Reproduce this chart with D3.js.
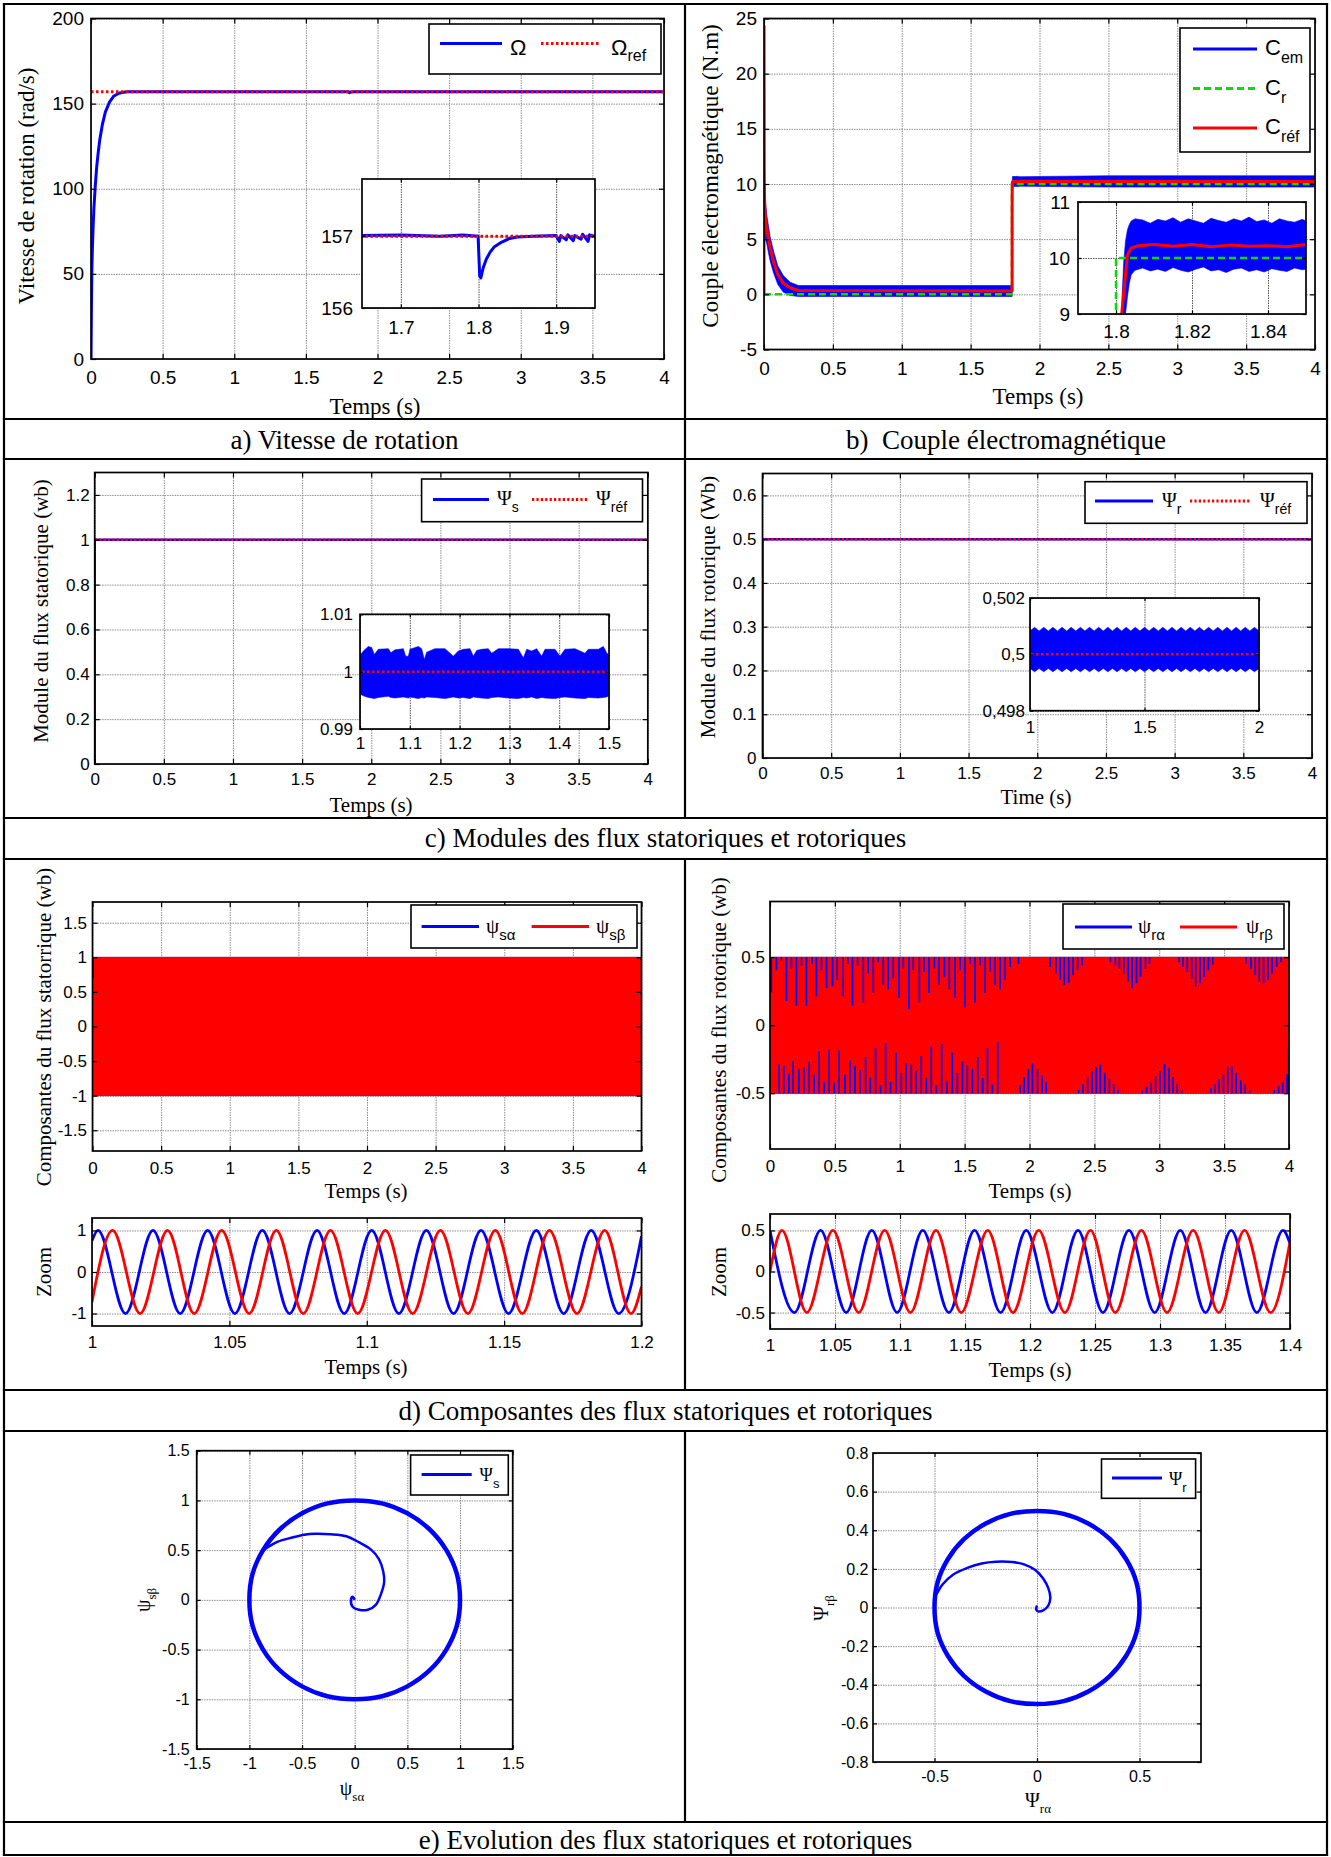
<!DOCTYPE html>
<html>
<head>
<meta charset="utf-8">
<script src="https://cdnjs.cloudflare.com/ajax/libs/d3/7.8.5/d3.min.js"></script>
<style>
  html, body { margin: 0; padding: 0; background: #fff; }
  svg { display: block; }
</style>
</head>
<body>
<script>
// ---------------- data ----------------
// (a) rotor speed, [time s, speed rad/s]
const speedCurve = [[0,0],[0.003,30],[0.006,52],[0.01,66],[0.015,78],[0.02,88],[0.03,102],[0.04,113],[0.05,121],[0.06,128],
  [0.08,138],[0.1,145],[0.13,151],[0.16,154.5],[0.2,156.3],[0.25,157],[0.3,157],[0.8,157.01],[1.2,156.99],[1.65,157.01],
  [1.7,157.02],[1.75,157],[1.78,157.02],[1.7995,157],[1.8015,156.45],[1.803,156.42],[1.806,156.56],[1.81,156.68],[1.815,156.78],[1.82,156.85],
  [1.83,156.92],[1.84,156.97],[1.85,156.99],[1.87,157],[1.9,157.01],[1.904,156.93],[1.906,157.01],[1.913,156.95],[1.915,157.02],[1.922,156.94],
  [1.924,157.01],[1.932,156.96],[1.934,157.03],[1.941,156.93],[1.943,157.02],[1.95,157],[2.5,157],[4,157]];
const speedRef = [[0,157],[4,157]];

// (b) torque: electromagnetic torque ripple band [time, lower, upper], reference and load torque
const torqueBand = [[0,0,0],[0.0005,0,24.8],[0.002,5.5,12.5],[0.005,5.2,11],[0.01,5.0,8.5],[0.02,4.6,7.2],[0.03,3.9,6.4],
  [0.045,3.0,5.2],[0.07,1.9,3.9],[0.1,0.9,2.6],[0.14,0.2,1.7],[0.19,-0.1,1.1],[0.25,-0.2,0.8],[1.8,-0.2,0.8],[1.8013,-0.2,0.8],
  [1.8016,8.6,9.3],[1.802,8.8,9.9],[1.8025,9.0,10.3],[1.803,9.3,10.5],[1.8035,9.55,10.6],[1.804,9.7,10.66],[1.805,9.78,10.7],
  [1.807,9.82,10.68],[1.809,9.77,10.62],[1.811,9.8,10.69],[1.813,9.76,10.66],[1.815,9.83,10.72],[1.817,9.78,10.64],[1.819,9.75,10.7],
  [1.821,9.8,10.66],[1.823,9.84,10.62],[1.825,9.77,10.71],[1.827,9.79,10.67],[1.829,9.74,10.64],[1.831,9.8,10.7],[1.833,9.82,10.66],
  [1.835,9.76,10.73],[1.837,9.79,10.65],[1.839,9.75,10.68],[1.841,9.81,10.62],[1.843,9.78,10.7],[1.845,9.76,10.66],[1.847,9.82,10.64],
  [1.849,9.79,10.69],[1.85,9.8,10.66],[2.5,9.72,10.75],[3,9.72,10.75],[3.5,9.72,10.75],[4,9.72,10.75]];
const torqueRef = [[0,0],[0.0005,24.3],[0.002,10.5],[0.005,8.2],[0.01,7.0],[0.02,6.0],[0.03,5.2],[0.045,4.2],[0.07,2.9],
  [0.1,1.8],[0.14,1.0],[0.19,0.6],[0.25,0.35],[1.8,0.3],[1.8013,0.3],[1.8015,9.0],[1.803,10.05],[1.804,10.18],[1.806,10.22],
  [1.81,10.24],[1.815,10.21],[1.82,10.24],[1.825,10.2],[1.83,10.23],[1.835,10.21],[1.84,10.22],[1.845,10.2],[1.85,10.24],[4,10.22]];
const torqueLoad = [[0,0],[1.8,0],[1.8,10],[4,10]];

// (c) flux magnitudes
const fluxStator = [[0,0],[0,1],[4,1]];
const fluxStatorRef = [[0,1],[4,1]];
const fluxStatorRipple = [[1.0,0.9961,1.0028],[1.0067,0.9958,1.0036],[1.0167,0.9955,1.0044],[1.0234,0.9954,1.0042],
  [1.0288,0.9953,1.003],[1.0368,0.9955,1.0039],[1.0569,0.9957,1.004],[1.0622,0.9955,1.0033],[1.0703,0.9954,1.0038],
  [1.087,0.9956,1.004],[1.0917,0.9955,1.0027],[1.0971,0.9954,1.0027],[1.1004,0.9956,1.0039],[1.1171,0.9953,1.0044],
  [1.1238,0.9955,1.004],[1.1292,0.9954,1.0021],[1.1339,0.9956,1.0034],[1.1506,0.9955,1.004],[1.1707,0.9953,1.004],
  [1.1874,0.9956,1.0027],[1.1975,0.9954,1.0036],[1.2075,0.9955,1.0039],[1.2209,0.9953,1.004],[1.2276,0.9956,1.0027],
  [1.2343,0.9955,1.0037],[1.2443,0.9954,1.0039],[1.2577,0.9953,1.004],[1.2644,0.9955,1.0032],[1.2778,0.9956,1.004],
  [1.2979,0.9954,1.004],[1.318,0.9953,1.0039],[1.328,0.9955,1.0024],[1.3347,0.9954,1.0039],[1.3447,0.9956,1.0036],
  [1.3548,0.9953,1.004],[1.3648,0.9955,1.0027],[1.3715,0.9954,1.0039],[1.3916,0.9953,1.0039],[1.4016,0.9955,1.0027],
  [1.4116,0.9956,1.0039],[1.4317,0.9954,1.004],[1.4518,0.9953,1.0032],[1.4585,0.9955,1.0039],[1.4786,0.9954,1.0039],
  [1.4886,0.9955,1.0044],[1.4953,0.9956,1.0033],[1.5,0.9958,1.0028]];
const fluxRotor = [[0,0],[0,0.5],[4,0.5]];
const fluxRotorRef = [[0,0.5],[4,0.5]];
const fluxRotorRipple = [[1.00,0.4995,0.50083],[1.02,0.49938,0.50096],[1.04,0.4995,0.50083],[1.06,0.49938,0.50096],
  [1.08,0.4995,0.50083],[1.10,0.49938,0.50096],[1.12,0.4995,0.50083],[1.14,0.49938,0.50096],[1.16,0.4995,0.50083],
  [1.18,0.49938,0.50096],[1.20,0.4995,0.50083],[1.22,0.49938,0.50096],[1.24,0.4995,0.50083],[1.26,0.49938,0.50096],
  [1.28,0.4995,0.50083],[1.30,0.49938,0.50096],[1.32,0.4995,0.50083],[1.34,0.49938,0.50096],[1.36,0.4995,0.50083],
  [1.38,0.49938,0.50096],[1.40,0.4995,0.50083],[1.42,0.49938,0.50096],[1.44,0.4995,0.50083],[1.46,0.49938,0.50096],
  [1.48,0.4995,0.50083],[1.50,0.49938,0.50096],[1.52,0.4995,0.50083],[1.54,0.49938,0.50096],[1.56,0.4995,0.50083],
  [1.58,0.49938,0.50096],[1.60,0.4995,0.50083],[1.62,0.49938,0.50096],[1.64,0.4995,0.50083],[1.66,0.49938,0.50096],
  [1.68,0.4995,0.50083],[1.70,0.49938,0.50096],[1.72,0.4995,0.50083],[1.74,0.49938,0.50096],[1.76,0.4995,0.50083],
  [1.78,0.49938,0.50096],[1.80,0.4995,0.50083],[1.82,0.49938,0.50096],[1.84,0.4995,0.50083],[1.86,0.49938,0.50096],
  [1.88,0.4995,0.50083],[1.90,0.49938,0.50096],[1.92,0.4995,0.50083],[1.94,0.49938,0.50096],[1.96,0.4995,0.50083],
  [1.98,0.49938,0.50096],[2.00,0.4995,0.50083]];

// (d) flux components: envelopes over 0-4 s, zoom extrema, rotor-alpha spikes left visible through the beta trace
const statorCompBand = [[0,-1,1],[4,-1,1]];
const statorAlphaStart = [[0.003,0.7],[0.003,1]];
const rotorCompBand = [[0,-0.5,0.5],[4,-0.5,0.5]];
const statorAlphaZoom = [[1,0.75],[1.0022,1],[1.0122,-1],[1.0222,1],[1.0321,-1],[1.0421,1],[1.052,-1],[1.062,1],[1.0719,-1],
  [1.0819,1],[1.0918,-1],[1.1018,1],[1.1117,-1],[1.1217,1],[1.1316,-1],[1.1416,1],[1.1516,-1],[1.1617,1],[1.1717,-1],
  [1.1817,1],[1.1917,-1],[1.2,0.86]];
const statorBetaZoom = [[1,-0.72],[1.0075,1],[1.0175,-1],[1.0275,1],[1.0372,-1],[1.0472,1],[1.0572,-1],[1.0671,1],[1.0769,-1],
  [1.0868,1],[1.0967,-1],[1.1068,1],[1.1167,-1],[1.1268,1],[1.1368,-1],[1.1468,1],[1.1566,-1],[1.1665,1],[1.1765,-1],
  [1.1866,1],[1.1962,-1],[1.2,-0.35]];
const rotorAlphaZoom = [[1,0.5],[1.0188,-0.5],[1.0389,0.5],[1.0586,-0.5],[1.0783,0.5],[1.0978,-0.5],[1.1175,0.5],[1.1376,-0.5],
  [1.1573,0.5],[1.1774,-0.5],[1.1971,0.5],[1.2172,-0.5],[1.2369,0.5],[1.2561,-0.5],[1.2761,0.5],[1.2959,-0.5],[1.3156,0.5],
  [1.335,-0.5],[1.3548,0.5],[1.3745,-0.5],[1.3946,0.5],[1.4,0.34]];
const rotorBetaZoom = [[1,0],[1.0092,0.5],[1.0283,-0.5],[1.0484,0.5],[1.0682,-0.5],[1.0882,0.5],[1.108,-0.5],[1.1277,0.5],
  [1.1471,-0.5],[1.1675,0.5],[1.1869,-0.5],[1.2067,0.5],[1.2268,-0.5],[1.2465,0.5],[1.2656,-0.5],[1.2857,0.5],[1.3054,-0.5],
  [1.3255,0.5],[1.3452,-0.5],[1.365,0.5],[1.385,-0.5],[1.4,0.36]];
const rotorTopSpikes = [[0.01,0.24],[0.05,0.405],[0.088,0.476],[0.127,0.179],[0.165,0.417],[0.204,0.143],[0.243,0.44],
  [0.281,0.143],[0.325,0.452],[0.358,0.214],[0.397,0.405],[0.436,0.274],[0.482,0.286],[0.518,0.333],[0.564,0.214],
  [0.6,0.45],[0.636,0.143],[0.675,0.44],[0.719,0.167],[0.757,0.381],[0.796,0.238],[0.834,0.464],[0.873,0.298],[0.911,0.262],
  [0.95,0.345],[0.994,0.202],[1.027,0.417],[1.071,0.119],[1.104,0.405],[1.151,0.167],[1.187,0.393],[1.225,0.238],
  [1.267,0.417],[1.303,0.298],[1.344,0.357],[1.382,0.262],[1.426,0.202],[1.465,0.405],[1.503,0.131],[1.542,0.452],
  [1.58,0.167],[1.619,0.44],[1.658,0.238],[1.696,0.393],[1.735,0.298],[1.773,0.262],[1.812,0.333],[1.851,0.429],
  [1.915,0.452],[2.16,0.428],[2.204,0.38],[2.237,0.333],[2.268,0.297],[2.302,0.313],[2.335,0.368],[2.371,0.404],
  [2.405,0.44],[2.624,0.464],[2.662,0.44],[2.693,0.416],[2.727,0.38],[2.76,0.321],[2.791,0.273],[2.825,0.309],
  [2.856,0.356],[2.894,0.416],[2.925,0.452],[3.152,0.464],[3.183,0.428],[3.216,0.392],[3.25,0.344],[3.281,0.285],
  [3.314,0.309],[3.345,0.356],[3.379,0.404],[3.412,0.447],[3.668,0.452],[3.706,0.416],[3.74,0.368],[3.771,0.321],
  [3.804,0.309],[3.838,0.333],[3.869,0.38],[3.905,0.428],[3.938,0.464]];
const rotorBottomSpikes = [[0.07,-0.286],[0.106,-0.298],[0.145,-0.357],[0.178,-0.262],[0.222,-0.321],[0.261,-0.31],
  [0.302,-0.267],[0.34,-0.362],[0.379,-0.19],[0.418,-0.417],[0.456,-0.179],[0.495,-0.421],[0.533,-0.186],[0.577,-0.362],
  [0.616,-0.257],[0.654,-0.298],[0.693,-0.329],[0.737,-0.233],[0.773,-0.386],[0.814,-0.167],[0.852,-0.44],[0.891,-0.131],
  [0.929,-0.417],[0.971,-0.202],[1.012,-0.352],[1.048,-0.279],[1.089,-0.29],[1.125,-0.333],[1.166,-0.226],[1.205,-0.386],
  [1.243,-0.155],[1.282,-0.44],[1.323,-0.138],[1.364,-0.412],[1.405,-0.202],[1.444,-0.352],[1.483,-0.267],[1.521,-0.298],
  [1.56,-0.321],[1.601,-0.233],[1.639,-0.388],[1.676,-0.167],[1.714,-0.436],[1.755,-0.126],[1.928,-0.44],[1.959,-0.381],
  [1.992,-0.321],[2.023,-0.281],[2.062,-0.321],[2.097,-0.369],[2.128,-0.417],[2.379,-0.476],[2.412,-0.433],[2.448,-0.385],
  [2.482,-0.337],[2.515,-0.309],[2.546,-0.289],[2.58,-0.349],[2.616,-0.392],[2.649,-0.433],[2.683,-0.476],[2.869,-0.481],
  [2.902,-0.452],[2.938,-0.421],[2.972,-0.373],[3.005,-0.337],[3.041,-0.285],[3.075,-0.313],[3.106,-0.38],[3.139,-0.433],
  [3.173,-0.476],[3.397,-0.464],[3.431,-0.433],[3.461,-0.397],[3.495,-0.361],[3.528,-0.301],[3.559,-0.301],[3.593,-0.349],
  [3.629,-0.404],[3.662,-0.433],[3.698,-0.476],[3.887,-0.476],[3.92,-0.445],[3.951,-0.421],[3.985,-0.361],[3.998,-0.17]];

// (e) flux trajectories in the alpha-beta plane
const statorSpiral = [[0,0],[-0.02,0.03],[-0.035,0],[-0.02,-0.07],[0.04,-0.1],[0.125,-0.1],[0.2,-0.05],[0.25,0.06],
  [0.28,0.18],[0.27,0.29],[0.23,0.41],[0.15,0.51],[0.04,0.58],[-0.08,0.64],[-0.23,0.66],[-0.375,0.665],[-0.48,0.655],
  [-0.6,0.625],[-0.73,0.585],[-0.81,0.54],[-0.87,0.5]];
const statorCircle = [[1,0],[0.97,0.26],[0.87,0.5],[0.71,0.71],[0.5,0.87],[0.26,0.97],[0,1],[-0.26,0.97],[-0.5,0.87],
  [-0.71,0.71],[-0.87,0.5],[-0.97,0.26],[-1,0],[-0.97,-0.26],[-0.87,-0.5],[-0.71,-0.71],[-0.5,-0.87],[-0.26,-0.97],
  [0,-1],[0.26,-0.97],[0.5,-0.87],[0.71,-0.71],[0.87,-0.5],[0.97,-0.26]];
const rotorSpiral = [[0,0.01],[-0.004,-0.01],[0.005,-0.02],[0.03,-0.015],[0.055,0.01],[0.065,0.05],[0.055,0.1],[0.03,0.15],
  [-0.01,0.195],[-0.06,0.222],[-0.12,0.235],[-0.2,0.237],[-0.27,0.228],[-0.34,0.205],[-0.41,0.17],[-0.46,0.12],
  [-0.49,0.07],[-0.5,0.05]];
const rotorCircle = [[0.5,0],[0.485,0.13],[0.435,0.25],[0.355,0.355],[0.25,0.435],[0.13,0.485],[0,0.5],[-0.13,0.485],
  [-0.25,0.435],[-0.355,0.355],[-0.435,0.25],[-0.485,0.13],[-0.5,0],[-0.485,-0.13],[-0.435,-0.25],[-0.355,-0.355],
  [-0.25,-0.435],[-0.13,-0.485],[0,-0.5],[0.13,-0.485],[0.25,-0.435],[0.355,-0.355],[0.435,-0.25],[0.485,-0.13]];

// tick values and labels
const timeTicks = [0,0.5,1,1.5,2,2.5,3,3.5,4];
const speedTicks = [0,50,100,150,200];
const speedZoomXTicks = [1.7,1.8,1.9];
const speedZoomYTicks = [156,157];
const torqueTicks = [-5,0,5,10,15,20,25];
const torqueZoomXTicks = [1.8,1.82,1.84];
const torqueZoomYTicks = [9,10,11];
const fluxStatorTicks = [0,0.2,0.4,0.6,0.8,1,1.2];
const fluxStatorZoomXTicks = [1,1.1,1.2,1.3,1.4,1.5];
const fluxStatorZoomYTicks = [0.99,1,1.01];
const fluxRotorTicks = [0,0.1,0.2,0.3,0.4,0.5,0.6];
const fluxRotorZoomXTicks = [1,1.5,2];
const fluxRotorZoomYTicks = [0.498,0.5,0.502];
const fluxRotorZoomYLabels = ["0,498","0,5","0,502"];
const statorCompTicks = [-1.5,-1,-0.5,0,0.5,1,1.5];
const statorZoomXTicks = [1,1.05,1.1,1.15,1.2];
const statorZoomYTicks = [-1,0,1];
const rotorCompTicks = [-0.5,0,0.5];
const rotorZoomXTicks = [1,1.05,1.1,1.15,1.2,1.25,1.3,1.35,1.4];
const planeStatorTicks = [-1.5,-1,-0.5,0,0.5,1,1.5];
const planeRotorXTicks = [-0.5,0,0.5];
const planeRotorYTicks = [-0.8,-0.6,-0.4,-0.2,0,0.2,0.4,0.6,0.8];

// ---------------- drawing ----------------
const SANS = '"Liberation Sans", Arial, Helvetica, sans-serif';
const SERIF = '"Liberation Serif", "Times New Roman", Times, serif';
const BLUE = "#0000ff", RED = "#ff0000", GREEN = "#00e000";
const W = 1331, H = 1857;

const svg = d3.select("body").append("svg").attr("width", W).attr("height", H);
svg.append("rect").attr("width", W).attr("height", H).attr("fill", "#fff");

const fmt = d => String(+d.toFixed(6));
let clipCount = 0;

// A MATLAB-style axes: white box, grid, inward ticks on all four sides
function axesBox(o) {
  const g = svg.append("g");
  const x = d3.scaleLinear().domain(o.xDomain).range([o.l, o.r]);
  const y = d3.scaleLinear().domain(o.yDomain).range([o.b, o.t]);
  const w = o.r - o.l, h = o.b - o.t;
  g.append("rect").attr("x", o.l).attr("y", o.t).attr("width", w).attr("height", h).attr("fill", "#fff");

  const grid = g.append("g");
  grid.append("g").attr("transform", `translate(0,${o.b})`)
    .call(d3.axisBottom(x).tickValues(o.xTicks).tickSize(-h).tickFormat(""));
  grid.append("g").attr("transform", `translate(${o.l},0)`)
    .call(d3.axisLeft(y).tickValues(o.yTicks).tickSize(-w).tickFormat(""));
  grid.selectAll(".domain").remove();
  grid.selectAll("text").remove();
  grid.selectAll("line").attr("stroke", o.gridColor || "#8e8e8e").attr("stroke-width", 1)
    .attr("stroke-dasharray", "1.5,1");

  const cid = "clip" + (clipCount++);
  g.append("clipPath").attr("id", cid).append("rect")
    .attr("x", o.l).attr("y", o.t).attr("width", w).attr("height", h);
  const plot = g.append("g").attr("clip-path", `url(#${cid})`);
  const frame = g.append("g");

  const xl = o.xLabels || o.xTicks.map(fmt);
  const yl = o.yLabels || o.yTicks.map(fmt);
  const tk = o.tick || 5;
  frame.append("g").attr("transform", `translate(0,${o.b})`)
    .call(d3.axisBottom(x).tickValues(o.xTicks).tickSize(-tk).tickPadding(o.xPad).tickFormat((d, i) => xl[i]));
  frame.append("g").attr("transform", `translate(0,${o.t})`)
    .call(d3.axisTop(x).tickValues(o.xTicks).tickSize(-tk).tickFormat(""));
  frame.append("g").attr("transform", `translate(${o.l},0)`)
    .call(d3.axisLeft(y).tickValues(o.yTicks).tickSize(-tk).tickPadding(o.yPad).tickFormat((d, i) => yl[i]));
  frame.append("g").attr("transform", `translate(${o.r},0)`)
    .call(d3.axisRight(y).tickValues(o.yTicks).tickSize(-tk).tickFormat(""));
  frame.selectAll(".domain").remove();
  frame.selectAll(".tick line").attr("stroke", "#000").attr("stroke-width", 1.2);
  frame.selectAll(".tick text").attr("font-family", SANS).attr("font-size", o.font).attr("fill", "#000");
  frame.append("rect").attr("x", o.l).attr("y", o.t).attr("width", w).attr("height", h)
    .attr("fill", "none").attr("stroke", "#000").attr("stroke-width", o.frame || 1.7);
  return { x, y, plot, frame };
}

function linePath(ax, data, color, width, dash, curve) {
  const gen = d3.line().x(d => ax.x(d[0])).y(d => ax.y(d[1]));
  if (curve) gen.curve(curve);
  const p = ax.plot.append("path").attr("d", gen(data)).attr("fill", "none")
    .attr("stroke", color).attr("stroke-width", width).attr("stroke-linejoin", "round");
  if (dash) p.attr("stroke-dasharray", dash);
  return p;
}
function bandPath(ax, data, color) {
  const gen = d3.area().x(d => ax.x(d[0])).y0(d => ax.y(d[1])).y1(d => ax.y(d[2]));
  ax.plot.append("path").attr("d", gen(data)).attr("fill", color).attr("stroke", color).attr("stroke-width", 0.6);
}

// text with an optional subscript part
function rich(x, y, parts, anchor, rotate) {
  const g = svg.append("g").attr("transform", `translate(${x},${y})` + (rotate ? ` rotate(${rotate})` : ""));
  const t = g.append("text").attr("text-anchor", anchor || "start").attr("fill", "#000");
  let cur = 0;
  parts.forEach(p => {
    const s = p.shift || 0;
    t.append("tspan").attr("dy", s - cur).attr("font-size", p.size)
      .attr("font-family", p.family || SERIF).text(p.text);
    cur = s;
  });
  return t;
}
function plainText(x, y, str, size, family, anchor, rotate) {
  return rich(x, y, [{ text: str, size: size, family: family }], anchor || "middle", rotate);
}
function legendFrame(x0, y0, x1, y1) {
  svg.append("rect").attr("x", x0).attr("y", y0).attr("width", x1 - x0).attr("height", y1 - y0)
    .attr("fill", "#fff").attr("stroke", "#000").attr("stroke-width", 1.6);
}
function legendSample(x0, x1, y, color, dash, width) {
  const l = svg.append("line").attr("x1", x0).attr("x2", x1).attr("y1", y).attr("y2", y)
    .attr("stroke", color).attr("stroke-width", width || 3);
  if (dash) l.attr("stroke-dasharray", dash);
}

// ---------- (a) rotor speed ----------
const pa = axesBox({ l: 91, r: 664, t: 18.5, b: 359, xDomain: [0, 4], yDomain: [0, 200],
  xTicks: timeTicks, yTicks: speedTicks, font: 19, xPad: 12, yPad: 7 });
linePath(pa, speedCurve, BLUE, 3);
linePath(pa, speedRef, RED, 3, "2.5,2.5");
legendFrame(429, 24, 661, 74);
legendSample(440, 502, 43.5, BLUE);
rich(510, 55, [{ text: "Ω", size: 22, family: SANS }]);
legendSample(541, 601, 43.5, RED, "2.5,2.5");
rich(611, 55, [{ text: "Ω", size: 22, family: SANS }, { text: "ref", size: 16, family: SANS, shift: 6 }]);
const pai = axesBox({ l: 362, r: 595, t: 179, b: 308, xDomain: [1.65, 1.95], yDomain: [156, 157.8],
  xTicks: speedZoomXTicks, yTicks: speedZoomYTicks, font: 19, xPad: 13, yPad: 9, tick: 3.5, gridColor: "#555" });
linePath(pai, speedCurve, BLUE, 3);
linePath(pai, speedRef, RED, 3, "2.5,2.5");
plainText(375, 414, "Temps (s)", 23, SERIF);
plainText(34, 186, "Vitesse de rotation (rad/s)", 23, SERIF, "middle", -90);

// ---------- (b) electromagnetic torque ----------
const pb = axesBox({ l: 764, r: 1315, t: 18.5, b: 349.5, xDomain: [0, 4], yDomain: [-5, 25],
  xTicks: timeTicks, yTicks: torqueTicks, font: 19, xPad: 12, yPad: 7 });
bandPath(pb, torqueBand, BLUE);
linePath(pb, torqueLoad, GREEN, 2.5, "7,4");
linePath(pb, torqueRef, RED, 3);
legendFrame(1180, 28, 1310, 152);
legendSample(1193, 1257, 49, BLUE);
rich(1265, 55, [{ text: "C", size: 22, family: SANS }, { text: "em", size: 16, family: SANS, shift: 8 }]);
legendSample(1193, 1257, 88.5, GREEN, "7,4");
rich(1265, 95, [{ text: "C", size: 22, family: SANS }, { text: "r", size: 16, family: SANS, shift: 8 }]);
legendSample(1193, 1257, 128, RED);
rich(1265, 134, [{ text: "C", size: 22, family: SANS }, { text: "réf", size: 16, family: SANS, shift: 8 }]);
const pbi = axesBox({ l: 1078, r: 1306, t: 202, b: 314, xDomain: [1.79, 1.85], yDomain: [9, 11],
  xTicks: torqueZoomXTicks, yTicks: torqueZoomYTicks, font: 19, xPad: 11, yPad: 8, tick: 3.5, gridColor: "#555" });
bandPath(pbi, torqueBand, BLUE);
linePath(pbi, torqueLoad, GREEN, 2.5, "7,4");
linePath(pbi, torqueRef, RED, 3);
plainText(1038, 404, "Temps (s)", 23, SERIF);
plainText(718, 176, "Couple électromagnétique (N.m)", 23, SERIF, "middle", -90);

// ---------- (c) flux magnitudes ----------
const pcl = axesBox({ l: 94.7, r: 647.8, t: 472.5, b: 764, xDomain: [0, 4], yDomain: [0, 1.3],
  xTicks: timeTicks, yTicks: fluxStatorTicks, font: 17, xPad: 9, yPad: 5 });
linePath(pcl, fluxStator, BLUE, 2.5);
linePath(pcl, fluxStatorRef, RED, 2.5, "2.2,2.2");
legendFrame(421.6, 479, 642.5, 521.7);
legendSample(433, 489, 499.5, BLUE);
rich(497, 505, [{ text: "Ψ", size: 20 }, { text: "s", size: 14, family: SANS, shift: 7 }]);
legendSample(532, 588, 499.5, RED, "2.2,2.2");
rich(596, 505, [{ text: "Ψ", size: 20 }, { text: "réf", size: 14, family: SANS, shift: 7 }]);
const pcli = axesBox({ l: 360, r: 609, t: 614.3, b: 729, xDomain: [1, 1.5], yDomain: [0.99, 1.01],
  xTicks: fluxStatorZoomXTicks, yTicks: fluxStatorZoomYTicks, font: 17, xPad: 8, yPad: 7, tick: 3, gridColor: "#555" });
bandPath(pcli, fluxStatorRipple, BLUE);
linePath(pcli, fluxStatorRef, RED, 2.5, "2.5,2.5");
plainText(371, 812, "Temps (s)", 21, SERIF);
plainText(48, 611, "Module du flux statorique (wb)", 21, SERIF, "middle", -90);

const pcr = axesBox({ l: 762.5, r: 1312, t: 473.5, b: 758, xDomain: [0, 4], yDomain: [0, 0.65],
  xTicks: timeTicks, yTicks: fluxRotorTicks, font: 17, xPad: 8.5, yPad: 6 });
linePath(pcr, fluxRotor, BLUE, 2.5);
linePath(pcr, fluxRotorRef, RED, 2.5, "2.2,2.2");
legendFrame(1085, 481.7, 1307, 523.3);
legendSample(1095, 1153, 501, BLUE);
rich(1162, 507, [{ text: "Ψ", size: 20 }, { text: "r", size: 14, family: SANS, shift: 7 }]);
legendSample(1190, 1250, 501, RED, "2.2,2.2");
rich(1260, 507, [{ text: "Ψ", size: 20 }, { text: "réf", size: 14, family: SANS, shift: 7 }]);
const pcri = axesBox({ l: 1030, r: 1259, t: 598, b: 710.7, xDomain: [1, 2], yDomain: [0.498, 0.502],
  xTicks: fluxRotorZoomXTicks, yTicks: fluxRotorZoomYTicks, yLabels: fluxRotorZoomYLabels,
  font: 17, xPad: 10, yPad: 5, tick: 3, gridColor: "#555" });
bandPath(pcri, fluxRotorRipple, BLUE);
linePath(pcri, fluxRotorRef, RED, 2.5, "2.5,2.5");
plainText(1036, 804, "Time (s)", 21, SERIF);
plainText(715, 607, "Module du flux rotorique (Wb)", 21, SERIF, "middle", -90);

// ---------- (d) flux components ----------
const pdl = axesBox({ l: 92.5, r: 641.5, t: 902, b: 1151, xDomain: [0, 4], yDomain: [-1.8, 1.8],
  xTicks: timeTicks, yTicks: statorCompTicks, font: 17, xPad: 11, yPad: 5.5 });
bandPath(pdl, statorCompBand, BLUE);
bandPath(pdl, statorCompBand, RED);
linePath(pdl, statorAlphaStart, BLUE, 2);
legendFrame(411, 905, 637, 948);
legendSample(421.6, 479, 926.5, BLUE);
rich(486, 933, [{ text: "ψ", size: 21 }, { text: "sα", size: 15, family: SANS, shift: 7 }]);
legendSample(531.6, 589, 926.5, RED);
rich(596, 933, [{ text: "ψ", size: 21 }, { text: "sβ", size: 15, family: SANS, shift: 7 }]);
plainText(366, 1198, "Temps (s)", 21, SERIF);
plainText(50.5, 1027, "Composantes du flux statorrique (wb)", 21, SERIF, "middle", -90);

const pdlz = axesBox({ l: 92, r: 641.5, t: 1218, b: 1326, xDomain: [1, 1.2], yDomain: [-1.3, 1.3],
  xTicks: statorZoomXTicks, yTicks: statorZoomYTicks, font: 17, xPad: 9.5, yPad: 5.5 });
linePath(pdlz, statorAlphaZoom, BLUE, 2.8, null, d3.curveMonotoneX);
linePath(pdlz, statorBetaZoom, RED, 2.8, null, d3.curveMonotoneX);
plainText(366, 1374, "Temps (s)", 21, SERIF);
plainText(50.5, 1272, "Zoom", 21, SERIF, "middle", -90);

const pdr = axesBox({ l: 770, r: 1289, t: 901.5, b: 1149, xDomain: [0, 4], yDomain: [-0.91, 0.91],
  xTicks: timeTicks, yTicks: rotorCompTicks, font: 17, xPad: 11, yPad: 5 });
bandPath(pdr, rotorCompBand, BLUE);
bandPath(pdr, rotorCompBand, RED);
pdr.plot.append("g").selectAll("line").data(rotorTopSpikes).join("line")
  .attr("x1", d => pdr.x(d[0])).attr("x2", d => pdr.x(d[0]))
  .attr("y1", pdr.y(0.5)).attr("y2", d => pdr.y(d[1]))
  .attr("stroke", BLUE).attr("stroke-width", 1.7);
pdr.plot.append("g").selectAll("line").data(rotorBottomSpikes).join("line")
  .attr("x1", d => pdr.x(d[0])).attr("x2", d => pdr.x(d[0]))
  .attr("y1", pdr.y(-0.5)).attr("y2", d => pdr.y(d[1]))
  .attr("stroke", BLUE).attr("stroke-width", 1.7);
legendFrame(1063, 904, 1284, 949);
legendSample(1075, 1132, 927, BLUE);
rich(1138, 933, [{ text: "ψ", size: 21 }, { text: "rα", size: 15, family: SANS, shift: 7 }]);
legendSample(1180, 1237, 927, RED);
rich(1246, 933, [{ text: "ψ", size: 21 }, { text: "rβ", size: 15, family: SANS, shift: 7 }]);
plainText(1030, 1198, "Temps (s)", 21, SERIF);
plainText(726, 1030, "Composantes du flux rotorique (wb)", 21, SERIF, "middle", -90);

const pdrz = axesBox({ l: 770, r: 1290, t: 1214, b: 1329, xDomain: [1, 1.4], yDomain: [-0.7, 0.7],
  xTicks: rotorZoomXTicks, yTicks: rotorCompTicks, font: 17, xPad: 9.5, yPad: 5 });
linePath(pdrz, rotorAlphaZoom, BLUE, 2.8, null, d3.curveMonotoneX);
linePath(pdrz, rotorBetaZoom, RED, 2.8, null, d3.curveMonotoneX);
plainText(1030, 1377, "Temps (s)", 21, SERIF);
plainText(726, 1272, "Zoom", 21, SERIF, "middle", -90);

// ---------- (e) alpha-beta trajectories ----------
const pel = axesBox({ l: 196.7, r: 512.7, t: 1450.7, b: 1749, xDomain: [-1.5, 1.5], yDomain: [-1.5, 1.5],
  xTicks: planeStatorTicks, yTicks: planeStatorTicks, font: 16, xPad: 8.5, yPad: 7, tick: 4 });
linePath(pel, statorCircle, BLUE, 4.5, null, d3.curveCatmullRomClosed);
linePath(pel, statorSpiral, BLUE, 2.5, null, d3.curveCatmullRom);
legendFrame(410.6, 1455, 508.3, 1495);
legendSample(421.6, 471.7, 1474.5, BLUE);
rich(479.6, 1481, [{ text: "Ψ", size: 18 }, { text: "s", size: 13, family: SANS, shift: 7 }]);
rich(352, 1795, [{ text: "ψ", size: 20 }, { text: "sα", size: 13, shift: 6 }], "middle");
rich(150, 1600, [{ text: "ψ", size: 20 }, { text: "sβ", size: 13, shift: 6 }], "middle", -90);

const per = axesBox({ l: 873, r: 1201, t: 1453, b: 1762, xDomain: [-0.8, 0.8], yDomain: [-0.8, 0.8],
  xTicks: planeRotorXTicks, yTicks: planeRotorYTicks, font: 16, xPad: 8.5, yPad: 4.5, tick: 4 });
linePath(per, rotorCircle, BLUE, 4.5, null, d3.curveCatmullRomClosed);
linePath(per, rotorSpiral, BLUE, 2.5, null, d3.curveCatmullRom);
legendFrame(1101.5, 1459, 1195.6, 1498.3);
legendSample(1112, 1162, 1478, BLUE);
rich(1169, 1485, [{ text: "Ψ", size: 18 }, { text: "r", size: 13, family: SANS, shift: 7 }]);
rich(1038, 1807, [{ text: "Ψ", size: 20 }, { text: "rα", size: 13, shift: 6 }], "middle");
rich(828, 1608, [{ text: "Ψ", size: 20 }, { text: "rβ", size: 13, shift: 6 }], "middle", -90);

// ---------- table frame and captions ----------
const rules = [
  [4, 4, 1327, 4], [4, 1855, 1327, 1855], [4, 4, 4, 1855], [1327, 4, 1327, 1855],
  [4, 419, 1327, 419], [4, 459, 1327, 459], [685, 4, 685, 459],
  [4, 818, 1327, 818], [4, 859, 1327, 859], [685, 459, 685, 818],
  [4, 1390, 1327, 1390], [4, 1431, 1327, 1431], [685, 859, 685, 1390],
  [4, 1822, 1327, 1822], [685, 1431, 685, 1822]
];
svg.append("g").selectAll("line").data(rules).join("line")
  .attr("x1", d => d[0]).attr("y1", d => d[1]).attr("x2", d => d[2]).attr("y2", d => d[3])
  .attr("stroke", "#000").attr("stroke-width", 2.2).attr("stroke-linecap", "square");

plainText(344.5, 449, "a) Vitesse de rotation", 27, SERIF);
plainText(1006, 449, "b)\u00a0 Couple électromagnétique", 27, SERIF);
plainText(665.5, 847, "c) Modules des flux statoriques et rotoriques", 27, SERIF);
plainText(665.5, 1420, "d) Composantes des flux statoriques et rotoriques", 27, SERIF);
plainText(665.5, 1849, "e) Evolution des flux statoriques et rotoriques", 27, SERIF);
</script>
</body>
</html>
